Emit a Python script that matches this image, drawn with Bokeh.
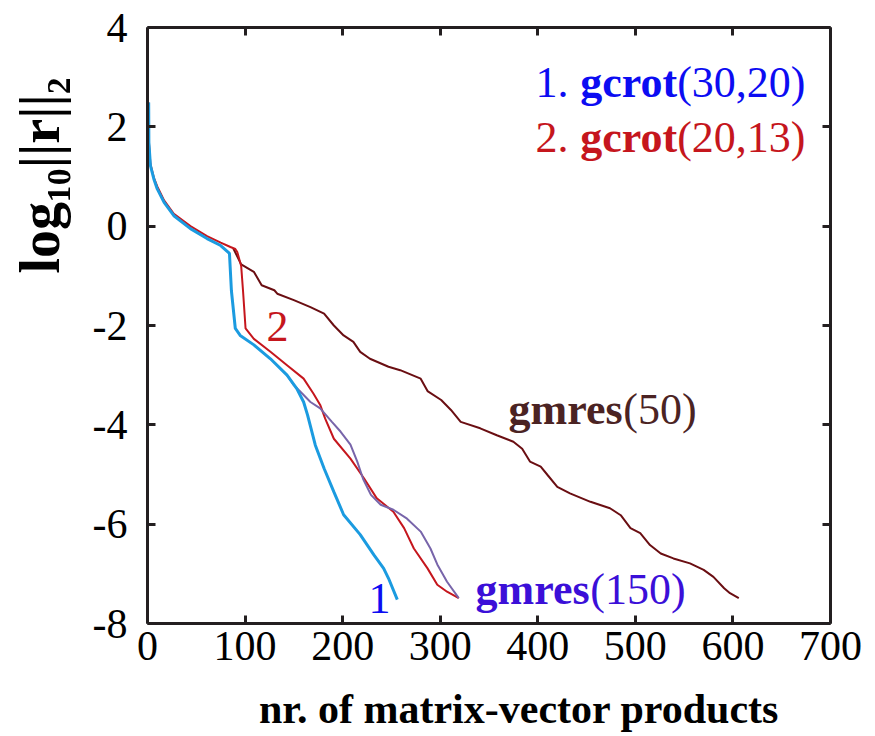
import math
from bokeh.plotting import figure
from bokeh.models import Label, LinearAxis, FixedTicker, Range1d
from bokeh.embed import file_html
from bokeh.resources import INLINE

# ---------------- data ----------------
gcrot_30_20_x = [1.2, 1.4, 3, 6.5, 10, 17, 27, 44, 61, 75, 84, 86, 90, 95, 109, 126, 143,
                 153, 160, 164, 172, 181, 191, 201, 218, 232, 242, 247, 256]
gcrot_30_20_y = [2.49, 1.69, 1.22, 0.95, 0.75, 0.48, 0.21, -0.05, -0.25, -0.39, -0.55, -1.3,
                 -2.06, -2.2, -2.39, -2.67, -3.0, -3.27, -3.54, -3.8, -4.41, -4.88, -5.35,
                 -5.81, -6.21, -6.62, -6.89, -7.09, -7.52]

gcrot_20_13_x = [1.2, 1.4, 3, 6.5, 10, 17, 27, 44, 61, 75, 85, 90, 92, 96, 98, 100.5, 109, 126,
                 143, 160, 170, 177, 182, 191, 208, 222, 235, 252, 263, 273, 287, 297, 307, 319]
gcrot_20_13_y = [2.49, 1.7, 1.25, 0.98, 0.8, 0.52, 0.25, 0.0, -0.2, -0.33, -0.42, -0.46, -0.52,
                 -0.8, -1.33, -2.06, -2.27, -2.53, -2.8, -3.07, -3.37, -3.6, -3.87, -4.28,
                 -4.68, -5.08, -5.48, -5.75, -6.08, -6.49, -6.89, -7.22, -7.36, -7.49]

gmres_150_x = [143, 150, 157, 167, 177, 189, 198, 208, 215, 221, 229, 239, 252, 266, 280,
               290, 297, 307, 319]
gmres_150_y = [-3.0, -3.2, -3.34, -3.54, -3.67, -3.94, -4.14, -4.4, -4.74, -5.09, -5.41,
               -5.61, -5.71, -5.89, -6.15, -6.49, -6.81, -7.16, -7.49]

gmres_50_x = [88, 96, 109, 117, 130, 133, 150, 167, 181, 191, 201, 211, 218, 228, 247, 259,
              280, 287, 301, 311, 321, 341, 358, 375, 384, 392, 403, 410, 420, 433, 454, 474,
              485, 495, 505, 515, 526, 539, 556, 570, 580, 591, 597, 606]
gmres_50_y = [-0.45, -0.77, -0.92, -1.19, -1.29, -1.36, -1.49, -1.63, -1.76, -2.0, -2.2,
              -2.33, -2.53, -2.67, -2.83, -2.9, -3.07, -3.32, -3.5, -3.7, -3.94, -4.07,
              -4.21, -4.34, -4.48, -4.74, -4.84, -5.01, -5.25, -5.38, -5.55, -5.68, -5.82,
              -6.08, -6.18, -6.42, -6.59, -6.69, -6.79, -6.92, -7.06, -7.29, -7.39, -7.49]

x_ticks = [0, 100, 200, 300, 400, 500, 600, 700]
x_tick_labels = ["0", "100", "200", "300", "400", "500", "600", "700"]
y_ticks = [-8, -6, -4, -2, 0, 2, 4]
y_tick_labels = ["-8", "-6", "-4", "-2", "0", "2", "4"]

x_title = "nr. of matrix-vector products"
y_title = "log\u2081\u2080||r||\u2082"

# ---------------- styles ----------------
FONT = "Liberation Serif"
AXIS_COLOR = "#231f20"
C_BLUE_LINE = "#1b9be0"
C_RED_LINE = "#c5161d"
C_DARK_LINE = "#6a0e12"
C_PURPLE_LINE = "#7865aa"
C_LBL1 = "#0c0cf2"
C_LBL2 = "#c5161d"
C_LBL50 = "#4b2323"
C_LBL150 = "#3b0fd8"

p = figure(width=875, height=736, output_backend="svg", toolbar_location=None,
           x_range=Range1d(0, 700), y_range=Range1d(-8, 4),
           min_border_left=147, min_border_right=45, min_border_top=27, min_border_bottom=113)
p.xgrid.visible = False
p.ygrid.visible = False
p.outline_line_color = None
p.background_fill_color = "white"
p.border_fill_color = "white"


def style_axis(ax, ticks, labels, show_labels, standoff):
    ax.ticker = FixedTicker(ticks=ticks)
    if show_labels:
        ax.major_label_overrides = {t: l for t, l in zip(ticks, labels)}
    else:
        ax.major_label_overrides = {t: "" for t in ticks}
    ax.axis_line_width = 3
    ax.axis_line_color = AXIS_COLOR
    ax.major_tick_in = 8
    ax.major_tick_out = 0
    ax.major_tick_line_width = 3
    ax.major_tick_line_color = AXIS_COLOR
    ax.minor_tick_line_color = None
    ax.major_label_text_font = FONT
    ax.major_label_text_font_size = "42px"
    ax.major_label_text_color = "black"
    ax.major_label_standoff = standoff


style_axis(p.below[0], x_ticks, x_tick_labels, True, 8)
style_axis(p.left[0], y_ticks, y_tick_labels, True, 20)
top_ax = LinearAxis()
style_axis(top_ax, x_ticks, x_tick_labels, False, 0)
p.add_layout(top_ax, "above")
right_ax = LinearAxis()
style_axis(right_ax, y_ticks, y_tick_labels, False, 0)
p.add_layout(right_ax, "right")

# axis titles placed in side panels (so they are not clipped to the frame);
# anchor = centre of the text box (baseline - 0.3375 em)
p.add_layout(Label(x=518.5, y=723 - 0.3375 * 42, x_units="canvas", y_units="canvas",
                   text=x_title, text_font=FONT, text_font_size="42px",
                   text_font_style="bold", text_color="black", text_align="center",
                   text_baseline="alphabetic"), "below")
p.add_layout(Label(x=58 - 0.3375 * 56, y=273, x_units="canvas", y_units="canvas",
                   text=y_title, text_font=FONT, text_font_size="56px",
                   text_font_style="bold", text_color="black", text_align="left",
                   text_baseline="alphabetic", angle=math.pi / 2), "left")

# ---------------- curves ----------------
p.line(gmres_50_x, gmres_50_y, line_color=C_DARK_LINE, line_width=2)
p.line(gcrot_20_13_x, gcrot_20_13_y, line_color=C_RED_LINE, line_width=2)
p.line(gmres_150_x, gmres_150_y, line_color=C_PURPLE_LINE, line_width=2)
p.line(gcrot_30_20_x, gcrot_30_20_y, line_color=C_BLUE_LINE, line_width=3)


def lbl(x, y, text, color, size, bold=False, align="left", dx=0):
    p.add_layout(Label(x=x, y=y, text=text, text_color=color, text_font=FONT,
                       text_font_size=f"{size}px",
                       text_font_style="bold" if bold else "normal",
                       text_align=align, text_baseline="alphabetic",
                       x_offset=dx, y_offset=15))


# legend-like labels, top right
lbl(674.4, 2.593, "(30,20)", C_LBL1, 44, align="right")
lbl(674.4, 2.593, "gcrot", C_LBL1, 44, bold=True, align="right", dx=-128.3)
lbl(674.4, 2.593, "1.", C_LBL1, 44, align="right", dx=-237)
lbl(674.4, 1.487, "(20,13)", C_LBL2, 44, align="right")
lbl(674.4, 1.487, "gcrot", C_LBL2, 44, bold=True, align="right", dx=-128.3)
lbl(674.4, 1.487, "2.", C_LBL2, 44, align="right", dx=-237)

# curve labels
lbl(370, -4.0, "gmres", C_LBL50, 44, bold=True)
lbl(370, -4.0, "(50)", C_LBL50, 44, dx=114.8)
lbl(336.2, -7.62, "gmres", C_LBL150, 44, bold=True)
lbl(336.2, -7.62, "(150)", C_LBL150, 44, dx=114.8)
lbl(226.5, -7.8, "1", C_LBL1, 44)
lbl(122, -2.33, "2", C_LBL2, 44)

open("out.html", "w").write(file_html(p, INLINE))
